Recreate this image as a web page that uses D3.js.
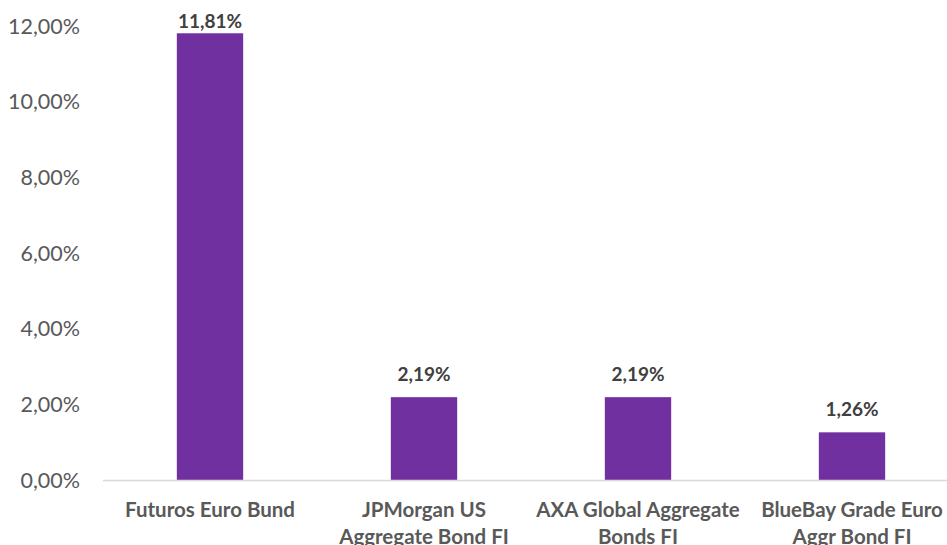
<!DOCTYPE html>
<html><head><meta charset="utf-8">
<script src="https://cdn.jsdelivr.net/npm/d3@7"></script>
<style>body{margin:0;background:#fff;} svg{display:block;}</style>
</head><body>
<svg id="c" width="947" height="545"></svg>
<script>
const categories = ["Futuros Euro Bund", "JPMorgan US\nAggregate Bond FI", "AXA Global Aggregate\nBonds FI", "BlueBay Grade Euro\nAggr Bond FI"];
const values = [11.81, 2.19, 2.19, 1.26];
const valueLabels = ["11,81%", "2,19%", "2,19%", "1,26%"];
const yTicks = [0, 2, 4, 6, 8, 10, 12];
const yTickLabels = ["0,00%", "2,00%", "4,00%", "6,00%", "8,00%", "10,00%", "12,00%"];

const svg = d3.select("#c");
const font = "Lato, 'Open Sans', sans-serif";
const x = d3.scaleBand().domain(categories).range([103, 959]).paddingInner(0.69).paddingOuter(0.345);
const y = d3.scaleLinear().domain([0, 12]).range([480, 26.1]);

// y tick labels
svg.append("g").selectAll("text").data(yTicks).join("text")
  .attr("x", 80).attr("y", d => y(d)).attr("dy", "0.35em")
  .attr("text-anchor", "end").attr("font-family", font).attr("font-size", 21.5)
  .attr("fill", "#595959").text((d, i) => yTickLabels[i]);

// bars
svg.append("g").selectAll("rect").data(values).join("rect")
  .attr("x", (d, i) => x(categories[i])).attr("width", x.bandwidth())
  .attr("y", d => y(d)).attr("height", d => y(0) - y(d))
  .attr("fill", "#7030a0");

// baseline
svg.append("line").attr("x1", 103).attr("x2", 947).attr("y1", y(0) + 0.5).attr("y2", y(0) + 0.5)
  .attr("stroke", "#d9d9d9").attr("stroke-width", 1.5);

// value labels
svg.append("g").selectAll("text").data(values).join("text")
  .attr("x", (d, i) => x(categories[i]) + x.bandwidth() / 2).attr("y", d => Math.max(y(d) - 16, 28))
  .attr("text-anchor", "middle").attr("font-family", font).attr("font-size", 19).attr("font-weight", "bold")
  .attr("fill", "#404040").text((d, i) => valueLabels[i]);

// category labels
const cg = svg.append("g");
categories.forEach((c, i) => {
  const t = cg.append("text").attr("text-anchor", "middle").attr("font-family", font)
    .attr("font-size", 20.5).attr("font-weight", "bold").attr("fill", "#595959");
  c.split("\n").forEach((line, j) => {
    t.append("tspan").attr("x", x(c) + x.bandwidth() / 2).attr("y", 517 + j * 27).text(line);
  });
});
</script>
</body></html>
